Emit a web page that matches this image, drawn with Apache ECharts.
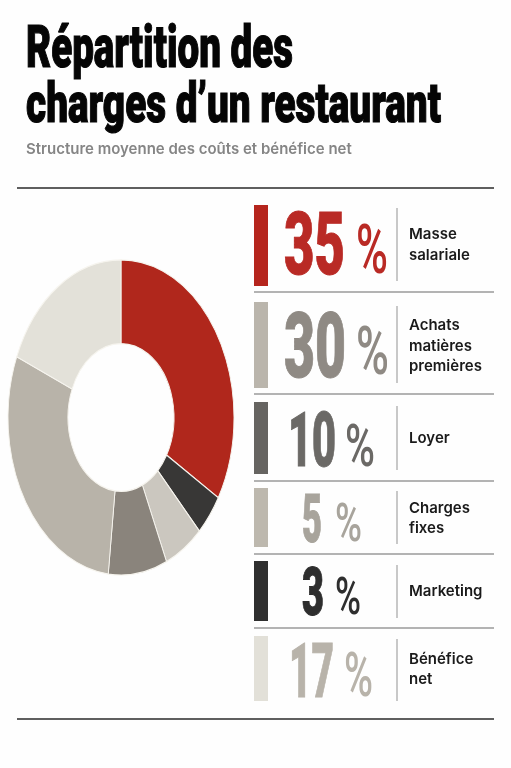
<!DOCTYPE html>
<html>
<head>
<meta charset="utf-8">
<style>
html,body{margin:0;padding:0;background:#fefefe}
#main{width:511px;height:768px}
</style>
<script src="https://cdn.jsdelivr.net/npm/echarts@6/dist/echarts.min.js"></script>
</head>
<body>
<div id="main"></div>
<script>
// ring, clockwise from 12 o'clock (shares as measured on the ring)
var sliceNames = ['Masse salariale', 'Marketing', 'Charges fixes', 'Loyer', 'Achats matières premières', 'Bénéfice net'];
var sliceShares = [33.5, 4.3, 5.6, 8.4, 29.5, 18.7];
var sliceColors = ['#b0271c', '#383736', '#cbc7bf', '#8a847c', '#b8b3a9', '#e3e1d9'];

// rows on the right
var rowPercents = ['35', '30', '10', '5', '3', '17'];
var rowLabels = ['Masse\nsalariale', 'Achats\nmatières\npremières', 'Loyer', 'Charges\nfixes', 'Marketing', 'Bénéfice\nnet'];
var rowBarColors = ['#b5251d', '#bab5ac', '#666461', '#bdb8ae', '#2f2f2f', '#e2e0d8'];
var rowNumColors = ['#b92a25', '#8f8a84', '#6b6966', '#a8a49c', '#2e2e2e', '#b8b3aa'];

// layout of the rows, one entry per row: [top, bottom]
var barSpans = [[205, 286], [302, 388], [402, 474], [488, 547], [561, 621], [636, 701]];
var tickSpans = [[208, 281], [306, 383], [406, 470], [491, 544], [565, 618], [639, 701]];
var ruleYs = [292, 394, 481, 554, 628];
var labelYs = [245, 346, 438.5, 518.5, 591.5, 669.5];
// [left, right, top, bottom]
var numBoxes = [[284, 345, 212, 275], [284, 346, 312, 378], [288, 336, 412, 467], [302, 322, 495, 543], [302, 324, 568, 616], [289, 334, 643, 698]];
var pctBoxes = [[356, 388, 224, 275], [356, 389, 326, 376], [345, 375, 423, 467], [335, 362, 502, 542], [335, 361, 576, 615], [344, 373, 652, 698]];

var measureCtx = document.createElement('canvas').getContext('2d');

// text squeezed to fit a box, the condensed display face is not installed
function FitText(text, box, capRatio, weight, color, strokeW) {
    var size = (box[3] - box[2]) / capRatio;
    var font = weight + ' ' + size + 'px Roboto';
    measureCtx.font = font;
    return {
        type: 'text',
        x: box[0],
        // 'middle' sits about 0.1em above the middle of the capitals
        y: (box[2] + box[3]) / 2 + size * 0.1,
        scaleX: (box[1] - box[0]) / measureCtx.measureText(text).width,
        style: {
            text: text, x: 0, y: 0, font: font, fill: color,
            stroke: strokeW ? color : null, lineWidth: strokeW || 0,
            textAlign: 'left', textVerticalAlign: 'middle'
        }
    };
}

function HLine(x1, x2, y, color, w) {
    return { type: 'line', shape: { x1: x1, y1: y, x2: x2, y2: y }, style: { stroke: color, lineWidth: w } };
}

var elements = [];
elements.push(FitText('Répartition des', [26, 293, 26, 68], 0.72, '900', '#050505', 1.2));
elements.push(FitText('charges d’un restaurant', [26, 441, 82, 123], 0.74, '900', '#050505', 1.2));
elements.push({
    type: 'text', x: 26, y: 149,
    style: { text: 'Structure moyenne des coûts et bénéfice net', font: '600 15px Inter', fill: '#858585', textVerticalAlign: 'middle' }
});
elements.push(HLine(17, 494, 188, '#2a2a2a', 1.5));
elements.push(HLine(17, 494, 719, '#2a2a2a', 1.5));

ruleYs.forEach(function (y) {
    elements.push(HLine(254, 494, y, '#9a9a9a', 1.3));
});

rowPercents.forEach(function (p, i) {
    elements.push({
        type: 'rect',
        shape: { x: 254, y: barSpans[i][0], width: 14, height: barSpans[i][1] - barSpans[i][0] },
        style: { fill: rowBarColors[i] }
    });
    elements.push(FitText(p, numBoxes[i], 0.73, '900', rowNumColors[i], 1));
    elements.push(FitText('%', pctBoxes[i], 0.75, '500', rowNumColors[i], 0));
    elements.push({
        type: 'line',
        shape: { x1: 397, y1: tickSpans[i][0], x2: 397, y2: tickSpans[i][1] },
        style: { stroke: '#a3a3a3', lineWidth: 1.2 }
    });
    elements.push({
        type: 'text', x: 409, y: labelYs[i],
        style: { text: rowLabels[i], font: '600 15px Inter', lineHeight: 20.5, fill: '#1a1a1a', textVerticalAlign: 'middle' }
    });
});

// ring is an ellipse in the picture, so a pie series will not do
var cx = 121, cy = 417.5, rOuter = 113, rInner = 53, squash = 1.394;
var total = sliceShares.reduce(function (a, b) { return a + b; }, 0);

function RenderSlice(params, api) {
    var before = 0;
    for (var i = 0; i < params.dataIndex; i++) before += sliceShares[i];
    var start = -Math.PI / 2 + before / total * Math.PI * 2;
    var end = start + api.value(0) / total * Math.PI * 2;
    return {
        type: 'sector',
        originX: cx,
        originY: cy,
        scaleY: squash,
        shape: { cx: cx, cy: cy, r: rOuter, r0: rInner, startAngle: start, endAngle: end, clockwise: true },
        style: { fill: sliceColors[params.dataIndex], stroke: '#f6f4ee', lineWidth: 0.9 }
    };
}

var chart = echarts.init(document.getElementById('main'));
chart.setOption({
    backgroundColor: '#fefefe',
    animation: false,
    graphic: { elements: elements },
    series: [{
        type: 'custom',
        coordinateSystem: 'none',
        silent: true,
        renderItem: RenderSlice,
        data: sliceShares.map(function (v, i) { return { name: sliceNames[i], value: [v] }; })
    }]
});
</script>
</body>
</html>
